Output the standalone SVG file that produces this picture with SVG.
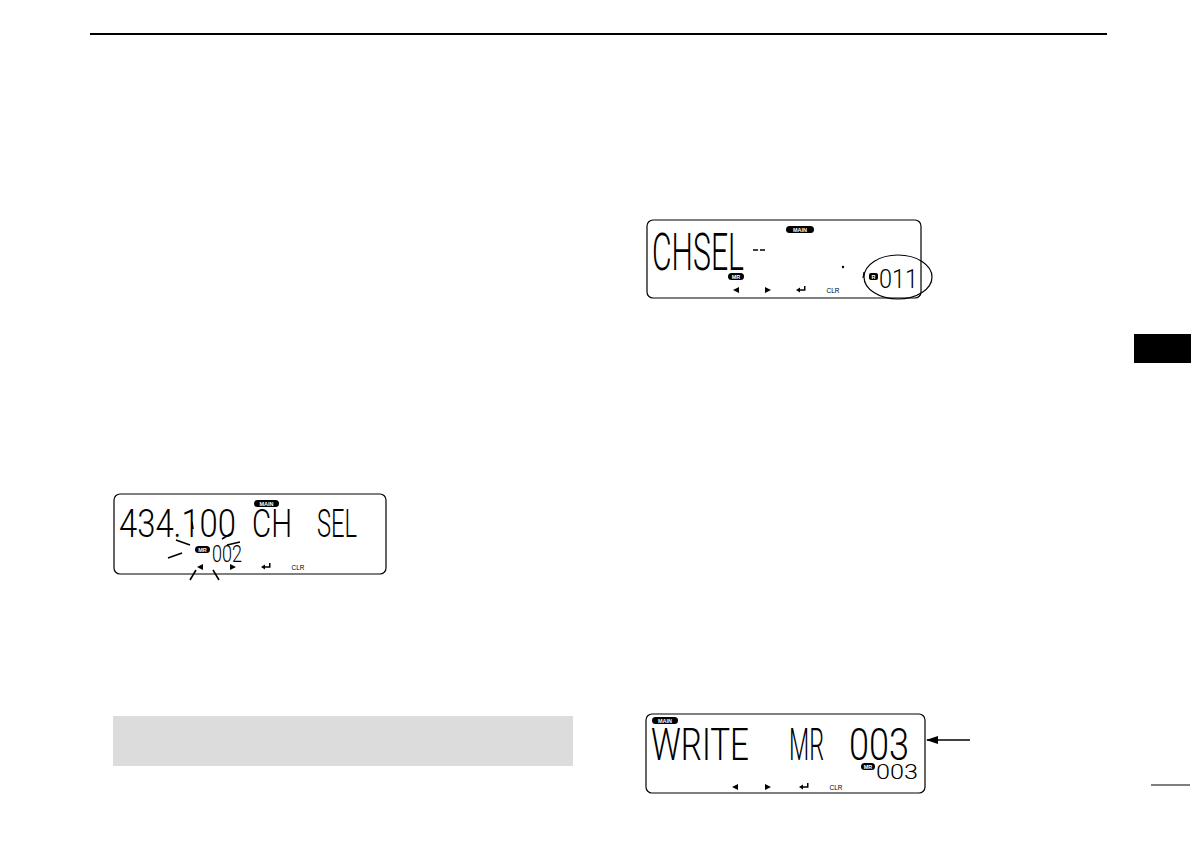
<svg xmlns="http://www.w3.org/2000/svg" width="1191" height="842" viewBox="0 0 1191 842">
<style>
.lcd{fill:#fff;stroke:#000;stroke-width:1.2}
.seg{font-family:Roboto,Lato,"Open Sans","DejaVu Sans Condensed",sans-serif;font-weight:300;font-style:normal;fill:#000}
.pill{fill:#000}
.pt{font-family:"Liberation Sans",Arial,sans-serif;font-weight:bold;font-size:5.5px;fill:#fff;text-anchor:middle}
.ico{fill:#000}
.clr{font-family:"Liberation Sans",Arial,sans-serif;font-size:6.5px;fill:#000;text-anchor:middle}
.ray{stroke:#000;stroke-width:1.6;fill:none}
</style>
<defs>
<marker id="ah" markerWidth="12" markerHeight="8" refX="11" refY="4" orient="auto" markerUnits="userSpaceOnUse">
<path d="M0,0 L12,4 L0,8 Z" fill="#000"/>
</marker>
</defs>
<rect width="1191" height="842" fill="#fff"/>
<line x1="90" y1="34" x2="1107" y2="34" stroke="#000" stroke-width="2.2"/>
<rect x="1134" y="334" width="57" height="29" fill="#000"/>
<line x1="1151" y1="785" x2="1190" y2="785" stroke="#000" stroke-width="1.2"/>
<rect x="113" y="716" width="460" height="50" fill="#dcdcdc"/>

<g id="lcd1">
<rect class="lcd" x="114" y="494" width="272" height="80" rx="6"/>
<text class="seg" x="119" y="537" font-size="38" textLength="117" lengthAdjust="spacingAndGlyphs">434.100</text>
<text class="seg" x="252" y="537" font-size="38" textLength="40" lengthAdjust="spacingAndGlyphs">CH</text>
<text class="seg" x="317" y="537" font-size="38" textLength="40" lengthAdjust="spacingAndGlyphs">SEL</text>
<rect class="pill" x="254" y="500" width="25" height="7" rx="3.5"/>
<text class="pt" x="266.5" y="505.6">MAIN</text>
<rect class="pill" x="195" y="546" width="15" height="7" rx="3.5"/>
<text class="pt" x="202.5" y="551.6">MR</text>
<text class="seg" x="212" y="562" font-size="23" textLength="30" lengthAdjust="spacingAndGlyphs">002</text>
<path class="ray" d="M176,540 L190,545 M168,558 L182,553 M190,580 L196,570 M213,570 L219,580 M192,522 L193,529 M222,539 L232,533 M227,545 L240,542"/>
<path class="ico" d="M197,567 L203,564 L203,570 Z M230,564 L236,567 L230,570 Z"/>
<path class="ico" d="M261,567 L265,564.5 L265,569.5 Z M264,566.2 L269,566.2 L269,563 L270.5,563 L270.5,567.8 L264,567.8 Z"/>
<text class="clr" x="298" y="570">CLR</text>
</g>

<g id="lcd2">
<rect class="lcd" x="647" y="220" width="274" height="78" rx="6"/>
<text class="seg" x="652" y="270" font-size="51" textLength="92" lengthAdjust="spacingAndGlyphs">CHSEL</text>
<path class="ray" d="M753,250 L758,250 M760,250 L765,250"/>
<rect class="pill" x="786" y="226" width="28" height="7" rx="3.5"/>
<text class="pt" x="800" y="231.6">MAIN</text>
<rect class="pill" x="728" y="273" width="16" height="7" rx="3.5"/>
<text class="pt" x="736" y="278.6">MR</text>
<circle cx="843" cy="267" r="1.2" fill="#000"/>
<line x1="864" y1="272" x2="863" y2="278" stroke="#000" stroke-width="1.2"/>
<rect class="pill" x="869" y="273" width="9" height="7" rx="2"/>
<text class="pt" x="873.5" y="278.6">R</text>
<text class="seg" x="879" y="288" font-size="26" textLength="39" lengthAdjust="spacingAndGlyphs">011</text>
<ellipse cx="898" cy="277" rx="34" ry="22" fill="none" stroke="#000" stroke-width="1.2"/>
<path class="ico" d="M733,290 L739,287 L739,293 Z M765,287 L771,290 L765,293 Z"/>
<path class="ico" d="M796,290 L800,287.5 L800,292.5 Z M799,289.2 L804,289.2 L804,286 L805.5,286 L805.5,290.8 L799,290.8 Z"/>
<text class="clr" x="833" y="293">CLR</text>
</g>

<g id="lcd3">
<rect class="lcd" x="646" y="714" width="279" height="79" rx="6"/>
<rect class="pill" x="652" y="717" width="26" height="7" rx="3.5"/>
<text class="pt" x="665" y="722.6">MAIN</text>
<text class="seg" x="651" y="760" font-size="44" textLength="98" lengthAdjust="spacingAndGlyphs">WRITE</text>
<text class="seg" x="789" y="760" font-size="44" textLength="35" lengthAdjust="spacingAndGlyphs">MR</text>
<text class="seg" x="849" y="760" font-size="44" textLength="60" lengthAdjust="spacingAndGlyphs">003</text>
<rect class="pill" x="861" y="763" width="14" height="7" rx="3.5"/>
<text class="pt" x="868" y="768.6">MR</text>
<text class="seg" x="876" y="779" font-size="20" textLength="42" lengthAdjust="spacingAndGlyphs">003</text>
<path class="ico" d="M732,787 L738,784 L738,790 Z M765,784 L771,787 L765,790 Z"/>
<path class="ico" d="M799,787 L803,784.5 L803,789.5 Z M802,786.2 L807,786.2 L807,783 L808.5,783 L808.5,787.8 L802,787.8 Z"/>
<text class="clr" x="836" y="790">CLR</text>
</g>

<g id="connectors">
<line x1="970" y1="740" x2="927" y2="740" stroke="#000" stroke-width="1.6" marker-end="url(#ah)"/>
</g>
</svg>
